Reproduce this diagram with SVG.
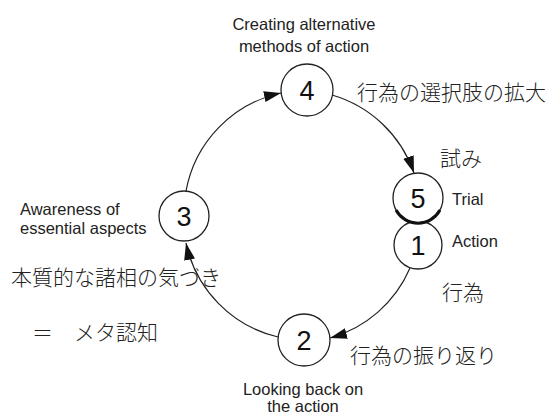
<svg xmlns="http://www.w3.org/2000/svg" width="549" height="417" viewBox="0 0 549 417">
<defs>
<style>
.node{fill:#fff;stroke:#222;stroke-width:1.3}
.num{font-family:"Liberation Sans",Arial,sans-serif;font-size:27px;fill:#111;text-anchor:middle}
.en{font-family:"Liberation Sans",Arial,sans-serif;font-size:16.5px;fill:#222}
.jp{font-family:"Noto Sans CJK JP",sans-serif;font-size:21px;fill:#222;font-weight:300}
.conn{fill:none;stroke:#222;stroke-width:1.2;marker-end:url(#arr)}
</style>
<marker id="arr" markerUnits="userSpaceOnUse" markerWidth="18" markerHeight="12" refX="17" refY="5.5" orient="auto">
<path d="M0,0 L17,5.5 L0,11 z" fill="#111"/>
</marker>
</defs>
<rect width="549" height="417" fill="#fff"/>
<g id="connectors">
<path class="conn" d="M186,191 A123,123 0 0 1 281,93"/>
<path class="conn" d="M332,95 A123,123 0 0 1 414,173"/>
<path class="conn" d="M410,268 A123,123 0 0 1 330,338"/>
<path class="conn" d="M278,337 A123,123 0 0 1 186,243"/>
</g>
<g id="node4">
<circle class="node" cx="307" cy="90" r="26"/>
<text class="num" x="307" y="100">4</text>
<text class="en" x="304" y="30" text-anchor="middle">Creating alternative</text>
<text class="en" x="304" y="52" text-anchor="middle">methods of action</text>
<text class="jp" x="357" y="100">行為の選択肢の拡大</text>
</g>
<g id="node1">
<circle class="node" cx="418" cy="245" r="24"/>
<text class="num" x="418" y="255">1</text>
<text class="en" x="452" y="247">Action</text>
<text class="jp" x="442" y="300">行為</text>
</g>
<g id="node5">
<circle class="node" cx="418" cy="198" r="25"/>
<path d="M396,210 A25,25 0 0 0 440,210" fill="none" stroke="#111" stroke-width="3"/>
<text class="num" x="418" y="208">5</text>
<text class="en" x="452" y="205">Trial</text>
<text class="jp" x="440" y="166">試み</text>
</g>
<g id="node2">
<circle class="node" cx="304" cy="340" r="26"/>
<text class="num" x="304" y="350">2</text>
<text class="en" x="303" y="395" text-anchor="middle">Looking back on</text>
<text class="en" x="303" y="412" text-anchor="middle">the action</text>
<text class="jp" x="350" y="363">行為の振り返り</text>
</g>
<g id="node3">
<circle class="node" cx="184" cy="216" r="25"/>
<text class="num" x="184" y="226">3</text>
<text class="en" x="20" y="215">Awareness of</text>
<text class="en" x="20" y="234">essential aspects</text>
<text class="jp" x="11" y="285" font-size="21.5">本質的な諸相の気づき</text>
<text class="jp" x="32" y="340">＝　メタ認知</text>
</g>
</svg>
